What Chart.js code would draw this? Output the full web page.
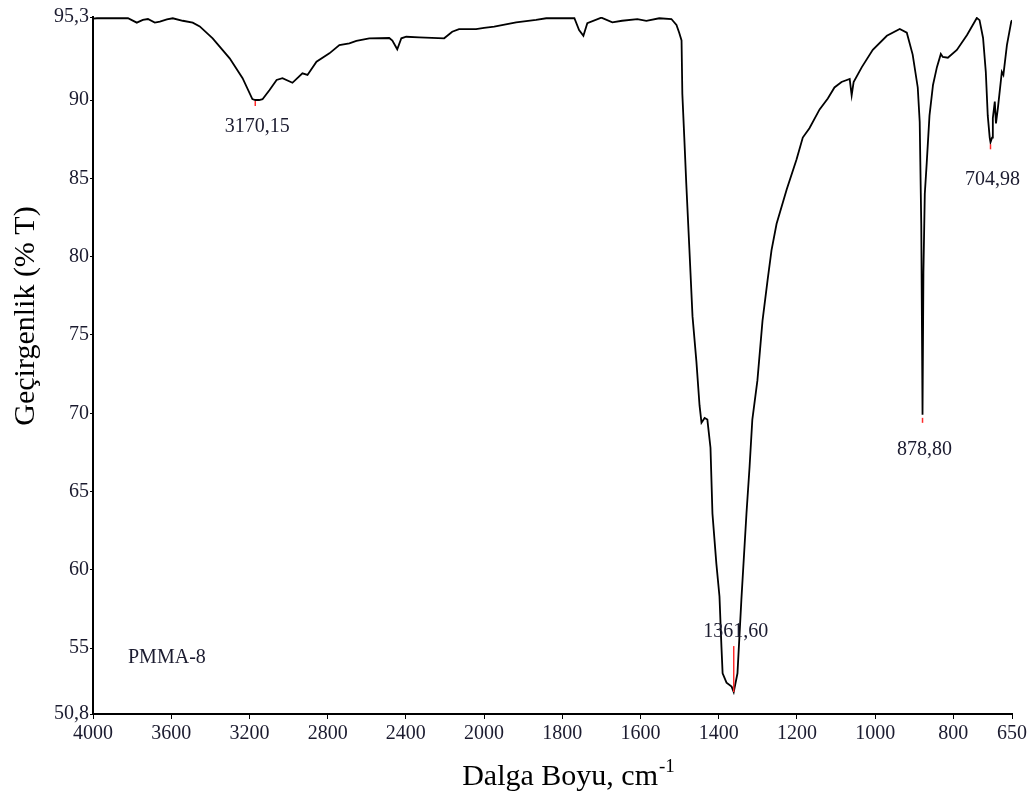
<!DOCTYPE html>
<html>
<head>
<meta charset="utf-8">
<script src="https://cdn.jsdelivr.net/npm/chart.js@4.4.0/dist/chart.umd.min.js"></script>
<style>
  html, body { margin: 0; padding: 0; background: #fff; }
  #wrap { width: 1032px; height: 798px; position: relative; }
</style>
</head>
<body>
<div id="wrap"><canvas id="ir"></canvas></div>
<script>
// FTIR spectrum of PMMA-8, wavenumber (cm-1) vs transmittance (%T)
const wavenumber = [
  4000, 3980, 3821, 3776, 3745, 3719, 3684, 3658, 3622, 3592, 3541, 3490, 3454, 3388,
  3301, 3235, 3185, 3170.15, 3150, 3133, 3097, 3061, 3031, 2980, 2929, 2903, 2857, 2791,
  2740, 2689, 2653, 2587, 2485, 2469, 2444, 2423, 2398, 2332, 2204, 2163, 2128, 2041,
  2000, 1974, 1918, 1867, 1841, 1769, 1757, 1746, 1736, 1700, 1672, 1647, 1608, 1585,
  1552, 1521, 1508, 1501, 1495, 1493, 1488, 1483, 1475, 1467, 1457, 1449, 1444, 1436,
  1429, 1421, 1416, 1406, 1398, 1393, 1390, 1380, 1367, 1361.60, 1352, 1342, 1329, 1321,
  1314, 1301, 1288, 1275, 1265, 1252, 1226, 1201, 1185, 1168, 1142, 1121, 1104, 1086,
  1065, 1060, 1055, 1034, 1006, 970, 937, 919, 904, 891, 886, 882, 878.80, 876.5,
  873, 868, 861, 852, 842, 832, 827, 814, 791, 765, 740, 733, 724, 717,
  712, 707, 704.98, 701, 699, 694, 691, 686, 676, 672, 663, 652, 650
];
const transmittance = [
  95.2, 95.22, 95.22, 94.94, 95.11, 95.17, 94.94, 95.0, 95.15, 95.22, 95.06, 94.94, 94.7, 93.94,
  92.66, 91.39, 90.06, 90.0, 90.0, 90.05, 90.64, 91.28, 91.39, 91.1, 91.7, 91.6, 92.45, 92.98,
  93.51, 93.62, 93.77, 93.94, 93.96, 93.8, 93.24, 93.94, 94.04, 94.0, 93.94, 94.36, 94.53, 94.53,
  94.6, 94.68, 94.96, 95.11, 95.22, 95.22, 94.47, 94.1, 94.9, 95.26, 94.96, 95.06, 95.17, 95.06,
  95.22, 95.17, 94.79, 94.3, 93.8, 90.4, 87.6, 84.7, 80.5, 76.2, 73.3, 70.5, 69.4, 69.7,
  69.6, 67.8, 63.6, 60.4, 58.3, 55.1, 53.4, 52.8, 52.55, 52.2, 53.4, 58.1, 63.6, 66.6,
  69.6, 72.1, 75.9, 78.5, 80.4, 82.1, 84.3, 86.2, 87.6, 88.2, 89.4, 90.1, 90.8, 91.15,
  91.34, 90.3, 91.15, 92.1, 93.2, 94.1, 94.53, 94.3, 92.9, 90.8, 88.6, 82.0, 69.9, 79.0,
  84.0, 86.0, 89.0, 90.96, 92.1, 92.94, 92.75, 92.7, 93.2, 94.15, 95.24, 95.1, 93.96, 91.8,
  89.0, 87.6, 87.3, 87.6, 88.85, 89.9, 88.5, 89.5, 91.8, 91.6, 93.5, 95.0, 95.1
];

// picked peaks
const peakWave = [3170.15, 1361.60, 878.80, 704.98];

const xTicks = [4000, 3600, 3200, 2800, 2400, 2000, 1800, 1600, 1400, 1200, 1000, 800, 650];
const yTicks = [50.8, 55, 60, 65, 70, 75, 80, 85, 90, 95.3];

const X_MAX = 4000, X_MIN = 650, X_SPLIT = 2000;
const SERIF = '"Liberation Serif", "Times New Roman", serif';
const TEXT = '#1b1b2f';

// instrument-style axis: above 2000 cm-1 the scale is compressed by half
function expand(v) {
  return v > X_SPLIT ? X_SPLIT + (v - X_SPLIT) / 2 : v;
}
function unexpand(e) {
  return e > X_SPLIT ? X_SPLIT + (e - X_SPLIT) * 2 : e;
}

class SplitScale extends Chart.LinearScale {
  static id = 'split';
  static defaults = Chart.LinearScale.defaults;
  getPixelForValue(value) {
    if (value === null || value === undefined) return NaN;
    const top = expand(X_MAX), bot = expand(X_MIN);
    return this.getPixelForDecimal((top - expand(value)) / (top - bot));
  }
  getValueForPixel(pixel) {
    const top = expand(X_MAX), bot = expand(X_MIN);
    return unexpand(top - this.getDecimalForPixel(pixel) * (top - bot));
  }
}
Chart.register(SplitScale);

const fmt = v => String(v).replace('.', ',');

// red markers + peak positions; gap is distance of label centre from the minimum
const peakStyle = [
  { gap: 27, tick: [1, 6] },
  { gap: -60, tick: [0, -46] },
  { gap: 35, tick: [3, 8] },
  { gap: 37, tick: [2, 7] }
];

const peakMarks = {
  id: 'peakMarks',
  afterDatasetsDraw(chart) {
    const { ctx, scales: { x, y } } = chart;
    ctx.save();
    peakWave.forEach((w, i) => {
      const t = transmittance[wavenumber.indexOf(w)];
      const px = x.getPixelForValue(w);
      const py = y.getPixelForValue(t);
      const st = peakStyle[i];
      ctx.strokeStyle = '#ff2a2a';
      ctx.lineWidth = 1.5;
      ctx.beginPath();
      ctx.moveTo(px, py + st.tick[0]);
      ctx.lineTo(px, py + st.tick[1]);
      ctx.stroke();
      ctx.fillStyle = TEXT;
      ctx.font = '20px ' + SERIF;
      ctx.textAlign = 'center';
      ctx.textBaseline = 'middle';
      ctx.fillText(w.toFixed(2).replace('.', ','), px + 2, py + st.gap);
    });
    ctx.restore();
  },
  afterDraw(chart) {
    const { ctx, chartArea } = chart;
    ctx.save();
    ctx.fillStyle = TEXT;

    // sample name
    ctx.font = '20px ' + SERIF;
    ctx.textAlign = 'left';
    ctx.textBaseline = 'middle';
    ctx.fillText('PMMA-8', chartArea.left + 35, chartArea.bottom - 56);

    // y title
    ctx.fillStyle = '#000';
    ctx.font = '30px ' + SERIF;
    ctx.translate(26, 316);
    ctx.rotate(-Math.PI / 2);
    ctx.textAlign = 'center';
    ctx.textBaseline = 'middle';
    ctx.fillText('Geçirgenlik (% T)', 0, 0);
    ctx.setTransform(1, 0, 0, 1, 0, 0);

    // x title with superscript
    const main = 'Dalga Boyu, cm';
    const sup = '-1';
    ctx.font = '30px ' + SERIF;
    const wMain = ctx.measureText(main).width;
    ctx.font = '19px ' + SERIF;
    const wSup = ctx.measureText(sup).width;
    const x0 = 568 - (wMain + wSup) / 2;
    const base = 785;
    ctx.textAlign = 'left';
    ctx.textBaseline = 'alphabetic';
    ctx.font = '30px ' + SERIF;
    ctx.fillText(main, x0, base);
    ctx.font = '19px ' + SERIF;
    ctx.fillText(sup, x0 + wMain + 1, base - 13);
    ctx.restore();
  }
};

new Chart(document.getElementById('ir'), {
  type: 'line',
  data: {
    datasets: [{
      label: 'PMMA-8',
      data: wavenumber.map((w, i) => ({ x: w, y: transmittance[i] })),
      borderColor: '#000',
      borderWidth: 1.8,
      pointRadius: 0,
      tension: 0,
      fill: false
    }]
  },
  options: {
    responsive: true,
    maintainAspectRatio: false,
    animation: false,
    devicePixelRatio: 1,
    layout: { padding: { left: 0, right: 20, top: 17, bottom: 0 } },
    plugins: {
      legend: { display: false },
      tooltip: { enabled: false }
    },
    scales: {
      x: {
        type: 'split',
        min: X_MIN,
        max: X_MAX,
        afterBuildTicks: s => { s.ticks = xTicks.map(v => ({ value: v })); },
        afterFit: s => { s.height = 84; },
        ticks: {
          autoSkip: false,
          maxRotation: 0,
          padding: 3,
          color: TEXT,
          font: { family: SERIF, size: 20 },
          callback: v => String(v)
        },
        grid: { drawOnChartArea: false, drawTicks: true, tickLength: 5, color: '#000', lineWidth: 1 },
        border: { display: true, color: '#000', width: 2 }
      },
      y: {
        type: 'linear',
        min: 50.8,
        max: 95.3,
        afterBuildTicks: s => { s.ticks = yTicks.map(v => ({ value: v })); },
        afterFit: s => { s.width = 93; },
        ticks: {
          padding: 1,
          color: TEXT,
          font: { family: SERIF, size: 20 },
          callback: v => fmt(v)
        },
        grid: { drawOnChartArea: false, drawTicks: true, tickLength: 3, color: '#000', lineWidth: 1 },
        border: { display: true, color: '#000', width: 2 }
      }
    }
  },
  plugins: [peakMarks]
});
</script>
</body>
</html>
